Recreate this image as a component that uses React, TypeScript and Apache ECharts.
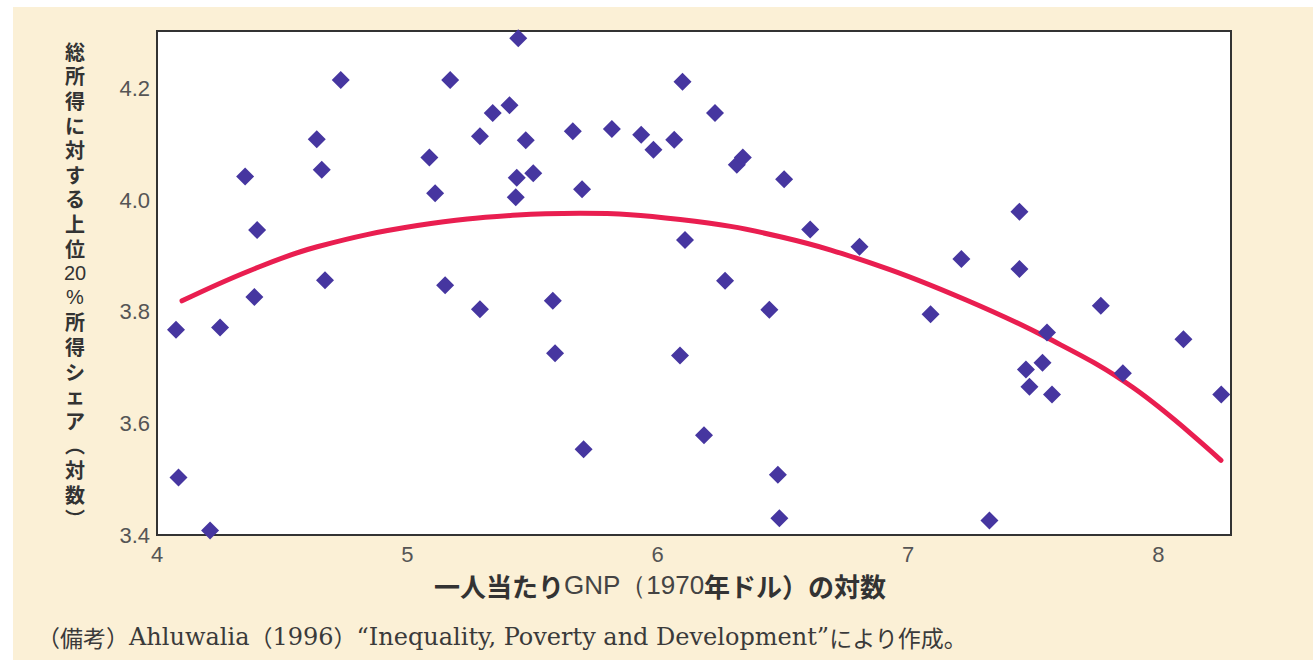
import React, { useEffect, useRef } from "react";
import * as echarts from "echarts";

// Scatter data: log of per-capita GNP (1970 USD) vs log of top-20% income share
const gnpLog: number[] = [
  4.076, 4.086, 4.212, 4.252, 4.352, 4.400, 4.389, 4.638, 4.658, 4.671,
  4.734, 5.088, 5.111, 5.151, 5.171, 5.290, 5.290, 5.341, 5.408, 5.443,
  5.437, 5.433, 5.473, 5.503, 5.581, 5.590, 5.661, 5.698, 5.704, 5.817,
  5.934, 5.983, 6.066, 6.099, 6.109, 6.089, 6.185, 6.229, 6.269, 6.316,
  6.340, 6.446, 6.480, 6.486, 6.505, 6.609, 6.806, 7.090, 7.213, 7.325,
  7.445, 7.445, 7.471, 7.485, 7.537, 7.555, 7.575, 7.770, 7.858, 8.100,
  8.251,
];
const topShare: number[] = [
  3.768, 3.503, 3.408, 3.772, 4.043, 3.947, 3.827, 4.110, 4.055, 3.857,
  4.216, 4.077, 4.013, 3.848, 4.216, 4.115, 3.805, 4.157, 4.171, 4.291,
  4.041, 4.006, 4.108, 4.049, 3.820, 3.726, 4.124, 4.020, 3.554, 4.128,
  4.118, 4.091, 4.109, 4.213, 3.929, 3.722, 3.579, 4.157, 3.856, 4.064,
  4.077, 3.804, 3.508, 3.430, 4.038, 3.948, 3.917, 3.796, 3.895, 3.426,
  3.980, 3.877, 3.697, 3.666, 3.709, 3.763, 3.652, 3.811, 3.690, 3.751,
  3.652,
];

// Fitted curve
const fitX: number[] = [4.10, 4.37, 4.64, 5.04, 5.44, 5.69, 6.09, 6.49, 6.89, 7.23, 7.55, 7.90, 8.25];
const fitY: number[] = [3.820, 3.874, 3.917, 3.955, 3.974, 3.977, 3.966, 3.935, 3.882, 3.822, 3.755, 3.664, 3.534];

const xTicks = { min: 4, max: 8.29, interval: 1 };
const yTicks = { min: 3.4, max: 4.304, interval: 0.2 };

const yNameRows: string[] = [
  "総", "所", "得", "に", "対", "す", "る", "上", "位", "20", "%",
  "所", "得", "シ", "ェ", "ア", "︵", "対", "数", "︶",
];
const xName = { bold1: "一人当たり", plain: "GNP（1970", bold2: "年ドル）の対数" };
const footer = {
  a: "（備考）",
  b: "Ahluwalia",
  c: "（",
  d: "1996",
  e: "）",
  f: "“Inequality, Poverty and Development”",
  g: "により作成。",
};

const CJK = "'Noto Sans CJK JP', 'Noto Sans', sans-serif";
const NARROW = "'Liberation Sans Narrow', 'Liberation Sans', Roboto, sans-serif";
const SERIF = "'DejaVu Serif', 'Noto Sans CJK JP', serif";

export default function App() {
  const ref = useRef<HTMLDivElement>(null);

  useEffect(() => {
    if (!ref.current) return;
    const chart = echarts.init(ref.current, undefined, { renderer: "svg" });

    const scatterData = gnpLog.map((x, i) => [x, topShare[i]]);
    const fitData = fitX.map((x, i) => [x, fitY[i]]);

    const rowH = 24.6;
    const yTop = 39;
    const yNameEls = yNameRows.map((r, i) => ({
      type: "text",
      z: 10,
      x: 75,
      y: yTop + rowH * i + rowH / 2,
      style: {
        text: r,
        align: "center",
        verticalAlign: "middle",
        textAlign: "center",
        textVerticalAlign: "middle",
        fontSize: r === "20" || r === "%" ? 20 : 20,
        fontWeight: r === "20" || r === "%" ? "normal" : "bold",
        fontFamily: r === "20" || r === "%" ? NARROW : CJK,
        fill: "#333",
      },
    }));

    chart.setOption({
      animation: false,
      backgroundColor: "#ffffff",
      grid: {
        left: 157,
        top: 31,
        width: 1074,
        height: 504,
        show: true,
        backgroundColor: "#ffffff",
        borderColor: "#333333",
        borderWidth: 2,
        z: 1,
      },
      xAxis: {
        type: "value",
        min: xTicks.min,
        max: xTicks.max,
        interval: xTicks.interval,
        axisLine: { show: true, lineStyle: { color: "#333", width: 2 } },
        axisTick: { show: true, inside: true, length: 9, lineStyle: { color: "#333", width: 1.5 } },
        axisLabel: {
          showMaxLabel: false,
          margin: 8,
          fontSize: 22,
          color: "#555",
          fontFamily: NARROW,
        },
        splitLine: { show: false },
      },
      yAxis: {
        type: "value",
        min: yTicks.min,
        max: yTicks.max,
        interval: yTicks.interval,
        axisLine: { show: true, lineStyle: { color: "#333", width: 2 } },
        axisTick: { show: true, inside: true, length: 9, lineStyle: { color: "#333", width: 1.5 } },
        axisLabel: {
          showMaxLabel: false,
          margin: 7,
          fontSize: 22,
          color: "#555",
          fontFamily: NARROW,
          formatter: (v: number) => v.toFixed(1),
        },
        splitLine: { show: false },
      },
      graphic: [
        {
          type: "rect",
          z: -10,
          silent: true,
          shape: { x: 13, y: 7, width: 1300, height: 653 },
          style: { fill: "#FBF0D6" },
        },
        ...yNameEls,
        {
          type: "text",
          z: 10,
          x: 660,
          y: 585,
          style: {
            text: `{b|${xName.bold1}}{n|${xName.plain}}{b|${xName.bold2}}`,
            align: "center",
            verticalAlign: "middle",
            textAlign: "center",
            textVerticalAlign: "middle",
            rich: {
              b: { fontSize: 26, fontWeight: "bold", fontFamily: CJK, fill: "#333" },
              n: { fontSize: 26, fontWeight: "normal", fontFamily: NARROW, fill: "#444" },
            },
          },
        },
        {
          type: "text",
          z: 10,
          x: 37,
          y: 637,
          style: {
            text: `{j|${footer.a}}{l|${footer.b}}{j|${footer.c}}{l|${footer.d}}{j|${footer.e}}{l|${footer.f}}{j|${footer.g}}`,
            align: "left",
            verticalAlign: "middle",
            textAlign: "left",
            textVerticalAlign: "middle",
            rich: {
              j: { fontSize: 23, fontFamily: CJK, fill: "#3a3a3a" },
              l: { fontSize: 24, fontFamily: SERIF, fill: "#3a3a3a" },
            },
          },
        },
      ],
      series: [
        {
          type: "line",
          data: fitData,
          smooth: 0.4,
          showSymbol: false,
          symbol: "none",
          lineStyle: { color: "#E91E50", width: 5, cap: "round" },
          z: 3,
          silent: true,
        },
        {
          type: "scatter",
          data: scatterData,
          symbol: "diamond",
          symbolSize: 18,
          itemStyle: { color: "#4636A0", opacity: 1 },
          z: 4,
          silent: true,
        },
      ],
    });

    return () => chart.dispose();
  }, []);

  return (
    <div
      ref={ref}
      style={{ position: "fixed", left: 0, top: 0, width: 1313, height: 660 }}
    />
  );
}
